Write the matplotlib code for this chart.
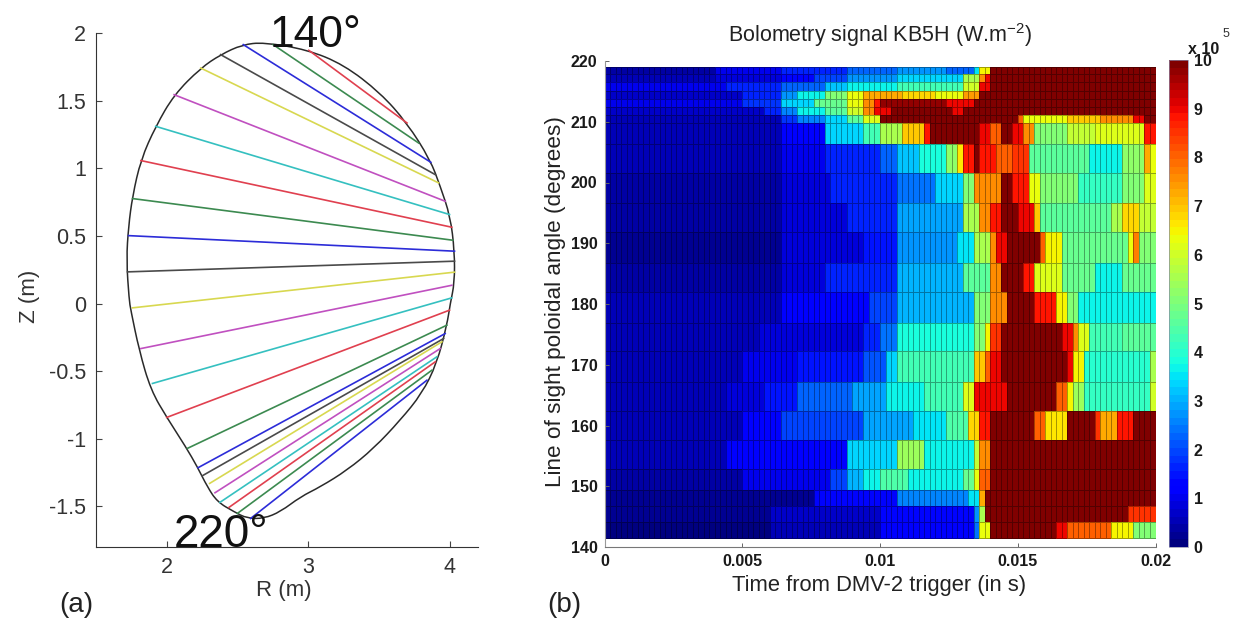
import numpy as np
import matplotlib
matplotlib.use('Agg')
import matplotlib.pyplot as plt
from matplotlib.path import Path
from matplotlib.patches import PathPatch

plt.rcParams['font.family'] = ['Liberation Sans', 'DejaVu Sans']
plt.rcParams['mathtext.fontset'] = 'custom'
plt.rcParams['mathtext.rm'] = 'Liberation Sans'
plt.rcParams['mathtext.default'] = 'rm'

W, H = 1234, 619

# Plasma boundary, panel (a)
wall_r = [2.687, 2.992, 3.251, 3.510, 3.698, 3.862, 3.933, 4.004, 4.034, 4.034, 4.004, 3.980,
          3.909, 3.804, 3.651, 3.463, 3.275, 3.086, 2.945, 2.804, 2.687, 2.569, 2.475, 2.357,
          2.287, 2.216, 2.134, 2.005, 1.887, 1.805, 1.746, 1.734, 1.715, 1.730, 1.758, 1.817,
          1.922, 2.052, 2.240, 2.381, 2.534]
wall_z = [1.931, 1.877, 1.766, 1.557, 1.335, 1.064, 0.867, 0.645, 0.387, 0.153, 0.000, -0.160,
          -0.443, -0.665, -0.862, -1.071, -1.232, -1.355, -1.429, -1.539, -1.589, -1.589, -1.539, -1.466,
          -1.355, -1.207, -1.059, -0.850, -0.640, -0.345, -0.049, 0.030, 0.325, 0.571, 0.793, 1.064,
          1.310, 1.544, 1.741, 1.840, 1.914]

# Lines of sight, top to bottom
los_r0 = [3.004, 2.752, 2.541, 2.381, 2.240, 2.052, 1.922, 1.817, 1.758, 1.730, 1.723, 1.758,
          1.817, 1.899, 2.000, 2.146, 2.221, 2.252, 2.303, 2.341, 2.376, 2.440, 2.499, 2.593]
los_z0 = [1.872, 1.914, 1.914, 1.840, 1.741, 1.544, 1.310, 1.057, 0.776, 0.502, 0.234, -0.032,
          -0.333, -0.591, -0.842, -1.071, -1.214, -1.273, -1.330, -1.399, -1.470, -1.507, -1.552, -1.589]
los_r1 = [3.698, 3.780, 3.867, 3.898, 3.921, 3.968, 3.999, 4.015, 4.022, 4.034, 4.034, 4.034,
          4.015, 4.015, 3.999, 3.980, 3.968, 3.957, 3.945, 3.933, 3.909, 3.898, 3.874, 3.839]
los_z1 = [1.335, 1.187, 1.044, 0.953, 0.892, 0.756, 0.658, 0.564, 0.468, 0.387, 0.313, 0.232,
          0.135, 0.042, -0.049, -0.160, -0.222, -0.259, -0.283, -0.333, -0.394, -0.431, -0.493, -0.567]
los_colors = ['#e0404f', '#3c8a50', '#2c2cd8', '#4a4a4a', '#d8d850', '#c050c0', '#35c0c0']

# Panel (b): row edges in degrees, top to bottom
angle_edges = [219.0, 217.9, 216.5, 215.0, 213.7, 212.4, 211.1, 209.8, 206.3, 201.5, 196.7, 191.9,
               186.7, 181.9, 176.9, 172.3, 167.2, 162.4, 157.6, 152.8, 149.4, 146.7, 144.1, 141.5]

# Signal per row as (until this time in ms, value in 1e5 W/m2)
row_00 = [(4.0, 0.4), (6.4, 1.0), (8.8, 1.7), (10.6, 2.2), (12.4, 2.8), (13.5, 2.3), (13.7, 3.5), (13.9, 6.5), (20, 10)]
row_01 = [(4.0, 0.6), (6.4, 0.9), (7.6, 1.3), (8.8, 2.0), (10.6, 2.8), (13.1, 3.4), (13.6, 5.5), (13.8, 7.5), (14.0, 9), (20, 10)]
row_02 = [(4.5, 1.0), (6.4, 1.6), (7.9, 2.2), (8.8, 3.2), (10.6, 3.7), (13.1, 4.3), (13.6, 6.0), (14, 9.0), (20, 10)]
row_03 = [(5.0, 0.7), (6.4, 1.6), (7.0, 2.8), (7.9, 3.6), (8.8, 5), (9.4, 6.3), (10.8, 7.3), (12, 6.8), (13, 6.4), (13.6, 7.4), (20, 10)]
row_04 = [(5, 1.0), (6.4, 1.8), (7.6, 3.3), (8.8, 4.7), (9.4, 6.4), (9.8, 7.5), (10.1, 8.9), (12.4, 9.8), (13.5, 9), (20, 10)]
row_05 = [(5.8, 0.7), (6.4, 1.7), (7, 2.6), (7.9, 3.6), (8.8, 4.6), (9.4, 6.0), (9.8, 7.5), (10.3, 9), (12.5, 10), (13, 9), (20, 10)]
row_06 = [(6.4, 0.6), (7, 1.8), (7.9, 2.5), (8.8, 3.4), (9.4, 4.6), (10.1, 6.2), (15.0, 10), (15.2, 8), (16.8, 6.4), (18.0, 7), (19.1, 7.6), (19.5, 9), (20, 10)]
row_07 = [(6.4, 0.5), (7.9, 1.1), (9.4, 3.3), (10.0, 4.3), (10.8, 5.5), (11.6, 7.0), (11.8, 8.8), (13.6, 10), (14.1, 9), (14.4, 8), (14.8, 10), (15.2, 9), (15.5, 7.5), (16.8, 5), (17.8, 5.8), (19.5, 6.2), (20, 8.9)]
row_08 = [(6.4, 0.5), (7.9, 1.0), (10, 1.6), (10.7, 2.2), (11.4, 3.2), (12.4, 3.8), (12.7, 5.2), (13, 6.6), (13.4, 8.9), (13.7, 10), (14.2, 8.9), (14.8, 8), (15.4, 8.5), (17.6, 4.6), (18.8, 3.6), (19.5, 5.3), (19.8, 7.2), (20, 6.3)]
row_09 = [(6.4, 0.4), (8.2, 0.9), (10.6, 1.7), (11.9, 2.4), (13, 3.3), (13.3, 5), (14.3, 7.6), (14.8, 10), (15.4, 8.9), (15.8, 6.4), (17.2, 5), (18.8, 4.2), (19.5, 5), (20, 6.2)]
row_10 = [(6.4, 0.4), (8.8, 0.9), (10.7, 1.7), (13.1, 2.9), (13.7, 5.5), (14, 7.5), (14.3, 8.9), (14.9, 10), (15.5, 9), (15.8, 7), (18.4, 4.6), (18.8, 5.5), (19.4, 6.8), (20, 5.8)]
row_11 = [(6.4, 0.3), (9.3, 0.8), (10.6, 1.5), (12.7, 2.8), (13.4, 3.5), (13.9, 5.5), (14.2, 7.5), (14.6, 9), (15.8, 10), (16, 8), (16.6, 6.5), (18.9, 4.7), (19.2, 6.4), (19.4, 7.8), (20, 5)]
row_12 = [(6.4, 0.4), (7.95, 0.8), (10.6, 1.6), (13.1, 3.0), (13.9, 4.6), (14.3, 7.6), (15.2, 10), (15.6, 8.9), (16.5, 6.2), (17.7, 4.7), (18.8, 3.6), (20, 4.7)]
row_13 = [(6.4, 0.5), (9.6, 1.1), (10.7, 2), (13.3, 3.0), (13.9, 5), (14.6, 7.6), (15.6, 10), (16.4, 8.9), (16.9, 6.5), (17.3, 5), (20, 3.6)]
row_14 = [(5.5, 0.5), (9.3, 0.9), (10, 1.7), (10.7, 2.4), (13.4, 3.8), (13.8, 5), (14, 6.5), (14.4, 8.5), (16.6, 10), (17, 9), (17.2, 7.6), (17.6, 6.2), (18.8, 4.3), (20, 4.6)]
row_15 = [(5.0, 0.6), (7, 1.0), (9.3, 1.5), (10.2, 2.1), (10.6, 3.3), (13.4, 4.3), (13.8, 7), (14, 8), (14.4, 9), (16.8, 10), (17, 9), (17.4, 6.5), (19.8, 4), (20, 5.5)]
row_16 = [(4.5, 0.5), (5.8, 0.8), (6.9, 1.5), (9.0, 2.3), (10.2, 2.9), (11.5, 3.6), (13.1, 4.3), (13.4, 6.2), (14.6, 9), (16.3, 10), (16.7, 8), (17, 6.5), (17.4, 5.4), (19.8, 4.2), (20, 6)]
row_17 = [(5, 0.6), (6.4, 1.1), (9.4, 1.9), (11.2, 2.9), (12.4, 3.5), (13.2, 4.5), (13.6, 6.8), (14, 8.9), (15.6, 10), (15.9, 8), (16.9, 6.6), (17.7, 10), (17.9, 8.5), (18.7, 7.2), (19.2, 8.9), (20, 10)]
row_18 = [(4.5, 0.5), (8.8, 1.2), (10.6, 3.4), (11.5, 5.4), (13.3, 3.7), (13.6, 5.8), (13.9, 7.6), (20, 10)]
row_19 = [(5.0, 0.45), (8.2, 1.0), (8.8, 1.9), (9.4, 3), (10.1, 3.6), (10.9, 4.5), (13.1, 3.6), (13.4, 4.8), (13.7, 6.3), (14, 8), (20, 10)]
row_20 = [(7.6, 0.3), (10.6, 1.4), (13.2, 2.5), (13.6, 3.5), (13.8, 7.3), (20, 10)]
row_21 = [(6.0, 0.3), (10, 0.7), (13.3, 1.4), (13.6, 2.8), (13.8, 5.5), (19, 10), (20, 8.5)]
row_22 = [(6.0, 0.15), (10, 0.5), (13.4, 1.1), (13.7, 2.4), (13.95, 6.3), (16.4, 10), (16.7, 9), (18.5, 8), (19.2, 6.5), (20, 5)]

rows = [row_00, row_01, row_02, row_03, row_04, row_05, row_06, row_07, row_08, row_09, row_10, row_11,
        row_12, row_13, row_14, row_15, row_16, row_17, row_18, row_19, row_20, row_21, row_22]

n_cols = 100
time_edges = np.linspace(0, 0.02, n_cols + 1)
time_mid = 0.5 * (time_edges[:-1] + time_edges[1:]) * 1e3


def expand(row):
    ends = np.array([p[0] for p in row])
    vals = np.array([p[1] for p in row])
    idx = np.searchsorted(ends, time_mid)
    return vals[np.clip(idx, 0, len(vals) - 1)]


signal = np.vstack([expand(r) for r in rows])


def px_axes(fig, x0, y0, x1, y1):
    # pixel box (y from the top of the image) to figure fractions
    return fig.add_axes([x0 / W, 1 - y1 / H, (x1 - x0) / W, (y1 - y0) / H])


def px_text(fig, x, y, s, **kw):
    fig.text(x / W, 1 - y / H, s, **kw)


def smooth_closed_path(xs, ys):
    # quadratic curve segments with the read points as control points
    pts = np.column_stack([xs, ys])
    mids = 0.5 * (pts + np.roll(pts, -1, axis=0))
    verts = [mids[-1]]
    codes = [Path.MOVETO]
    for p, m in zip(pts, mids):
        verts += [p, m]
        codes += [Path.CURVE3, Path.CURVE3]
    return Path(verts, codes)


fig = plt.figure(figsize=(W / 100, H / 100), dpi=100)

# Panel (a)
ax = px_axes(fig, 96, 33, 478, 547)
for i in range(len(los_r0)):
    ax.plot([los_r0[i], los_r1[i]], [los_z0[i], los_z1[i]],
            color=los_colors[i % len(los_colors)], lw=1.2)
ax.add_patch(PathPatch(smooth_closed_path(wall_r, wall_z), fill=False, edgecolor='#2a2a2a', lw=1.1))
ax.set_xlim(1.5, 4.2)
ax.set_ylim(-1.8, 2)
ax.set_xticks([2, 3, 4])
ax.set_yticks([-1.5, -1, -0.5, 0, 0.5, 1, 1.5, 2])
ax.set_yticklabels(['-1.5', '-1', '-0.5', '0', '0.5', '1', '1.5', '2'])
ax.spines['top'].set_visible(False)
ax.spines['right'].set_visible(False)
ax.spines['left'].set_color('#333333')
ax.spines['bottom'].set_color('#333333')
ax.tick_params(direction='in', length=4, width=0.8, color='#444444', labelcolor='#333333',
               labelsize=15.5, pad=7)
ax.patch.set_alpha(0)
px_text(fig, 284, 596, 'R (m)', fontsize=16, color='#333333', ha='center', va='baseline')
px_text(fig, 29, 296, 'Z (m)', fontsize=16, color='#333333', rotation=90, ha='center', va='center')
px_text(fig, 270, 47, '140°', fontsize=32, color='#111111', ha='left', va='baseline')
px_text(fig, 174, 547, '220°', fontsize=33, color='#111111', ha='left', va='baseline')
px_text(fig, 59, 612, '(a)', fontsize=20, color='#222222', ha='left', va='baseline')

# Panel (b)
bx = px_axes(fig, 604.5, 61, 1155.5, 547)
cmap = plt.get_cmap('jet', 64)
mesh = bx.pcolormesh(time_edges, angle_edges, signal, cmap=cmap, vmin=0, vmax=10,
                     edgecolors=(0, 0, 0, 0.35), linewidth=0.4)
bx.set_xlim(0, 0.02)
bx.set_ylim(140, 220)
bx.set_xticks([0, 0.005, 0.01, 0.015, 0.02])
bx.set_xticklabels(['0', '0.005', '0.01', '0.015', '0.02'])
bx.set_yticks(range(140, 221, 10))
bx.spines['top'].set_visible(False)
bx.spines['right'].set_visible(False)
bx.spines['left'].set_color('#999999')
bx.spines['bottom'].set_color('#777777')
bx.tick_params(direction='in', length=3, width=0.7, color='#666666', labelcolor='#1a1a1a',
               labelsize=11.5, pad=5)
for lab in bx.get_xticklabels() + bx.get_yticklabels():
    lab.set_fontweight('bold')
px_text(fig, 880, 42, 'Bolometry signal KB5H (W.m$^{-2}$)', fontsize=15.5, color='#222222',
        ha='center', va='baseline')
px_text(fig, 879, 591, 'Time from DMV-2 trigger (in s)', fontsize=15.8, color='#222222',
        ha='center', va='baseline')
px_text(fig, 555, 302, 'Line of sight poloidal angle (degrees)', fontsize=16.2, color='#222222',
        rotation=90, ha='center', va='center')
px_text(fig, 547, 612, '(b)', fontsize=20, color='#222222', ha='left', va='baseline')

# Colour bar
cax = px_axes(fig, 1169, 60, 1188, 547)
cb = fig.colorbar(mesh, cax=cax, ticks=range(0, 11))
cb.outline.set_linewidth(0.5)
cb.outline.set_edgecolor('#8888aa')
cax.tick_params(length=0, labelsize=11.5, labelcolor='#1a1a1a', pad=4)
for lab in cax.get_yticklabels():
    lab.set_fontweight('bold')
px_text(fig, 1188, 54, 'x 10', fontsize=11.5, fontweight='bold', color='#1a1a1a', ha='left', va='baseline')
px_text(fig, 1223, 37, '5', fontsize=9, color='#333333', ha='left', va='baseline')

fig.savefig('out.png', dpi=100)
